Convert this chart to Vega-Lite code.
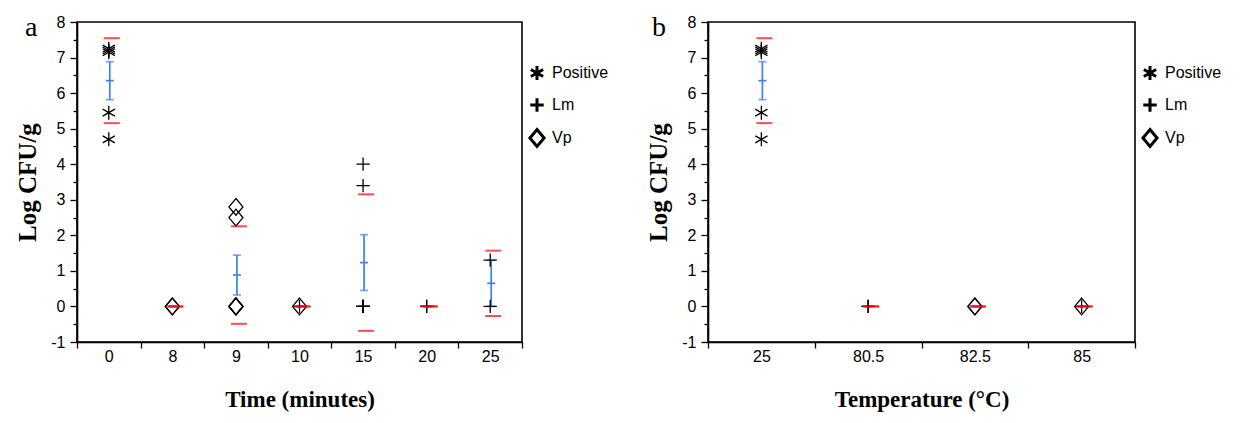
{
  "$schema": "https://vega.github.io/schema/vega-lite/v6.json",
  "background": "white",
  "padding": {"left": 14, "top": 13, "right": 5, "bottom": 3},
  "config": {
    "font": "Liberation Sans",
    "view": {"stroke": "black", "strokeWidth": 1.6},
    "axis": {
      "grid": false,
      "domainColor": "black",
      "domainWidth": 1.6,
      "tickColor": "black",
      "tickWidth": 1.3,
      "labelFont": "Liberation Sans",
      "labelFontSize": 16,
      "labelColor": "black",
      "titleFont": "Liberation Serif",
      "titleFontSize": 23,
      "titleFontWeight": "bold",
      "titleColor": "black"
    },
    "legend": {
      "orient": "none",
      "title": null,
      "symbolStrokeWidth": 3,
      "symbolSize": 200,
      "symbolStrokeColor": "black",
      "symbolFillColor": "transparent",
      "labelFont": "Liberation Sans",
      "labelFontSize": 16,
      "labelColor": "black",
      "labelOffset": 6,
      "rowPadding": 5
    },
    "concat": {"spacing": 35}
  },
  "datasets": {
    "a": [
      {"cat": "0", "group": "Positive", "v": 7.25},
      {"cat": "0", "group": "Positive", "v": 7.2},
      {"cat": "0", "group": "Positive", "v": 7.15},
      {"cat": "0", "group": "Positive", "v": 5.45},
      {"cat": "0", "group": "Positive", "v": 4.7},
      {"cat": "8", "group": "Vp", "v": 0},
      {"cat": "8", "group": "Vp", "v": 0},
      {"cat": "9", "group": "Vp", "v": 2.8},
      {"cat": "9", "group": "Vp", "v": 2.5},
      {"cat": "9", "group": "Vp", "v": 0},
      {"cat": "9", "group": "Vp", "v": 0},
      {"cat": "9", "group": "Vp", "v": 0},
      {"cat": "9", "group": "Vp", "v": 0},
      {"cat": "10", "group": "Vp", "v": 0},
      {"cat": "10", "group": "Lm", "v": 0},
      {"cat": "15", "group": "Lm", "v": 4.0},
      {"cat": "15", "group": "Lm", "v": 3.4},
      {"cat": "15", "group": "Lm", "v": 0},
      {"cat": "15", "group": "Lm", "v": 0},
      {"cat": "15", "group": "Lm", "v": 0},
      {"cat": "15", "group": "Lm", "v": 0},
      {"cat": "20", "group": "Lm", "v": 0},
      {"cat": "20", "group": "Lm", "v": 0},
      {"cat": "25", "group": "Lm", "v": 1.3},
      {"cat": "25", "group": "Lm", "v": 0}
    ],
    "b": [
      {"cat": "25", "group": "Positive", "v": 7.25},
      {"cat": "25", "group": "Positive", "v": 7.2},
      {"cat": "25", "group": "Positive", "v": 7.15},
      {"cat": "25", "group": "Positive", "v": 5.45},
      {"cat": "25", "group": "Positive", "v": 4.7},
      {"cat": "80.5", "group": "Lm", "v": 0},
      {"cat": "80.5", "group": "Lm", "v": 0},
      {"cat": "82.5", "group": "Vp", "v": 0},
      {"cat": "82.5", "group": "Vp", "v": 0},
      {"cat": "85", "group": "Vp", "v": 0},
      {"cat": "85", "group": "Lm", "v": 0}
    ]
  },
  "hconcat": [
    {
      "width": 445,
      "height": 320,
      "data": {"name": "a"},
      "title": {"text": "a", "anchor": "start", "frame": "group", "font": "Liberation Serif", "fontSize": 28, "fontWeight": "normal", "color": "black", "baseline": "alphabetic", "dx": -52, "offset": -50},
      "encoding": {
        "x": {"field": "cat", "type": "nominal", "title": "Time (minutes)",
          "scale": {"type": "band", "domain": ["0", "8", "9", "10", "15", "20", "25"], "paddingInner": 0, "paddingOuter": 0},
          "axis": {"labelAngle": 0, "tickBand": "extent", "tickSize": 6, "labelPadding": 0, "titlePadding": 24}},
        "y": {"field": "v", "type": "quantitative", "title": "Log CFU/g",
          "scale": {"domain": [-1, 8], "nice": false, "zero": false},
          "axis": {"values": [-1, -0.5, 0, 0.5, 1, 1.5, 2, 2.5, 3, 3.5, 4, 4.5, 5, 5.5, 6, 6.5, 7, 7.5, 8],
            "tickSize": {"condition": {"test": "datum.value % 1 !== 0", "value": 4}, "value": 7},
            "labelExpr": "datum.value % 1 === 0 ? '' + datum.value : ''",
            "labelPadding": 5, "titlePadding": 10, "titleFontSize": 25}}
      },
      "layer": [
        {"mark": {"type": "errorbar", "extent": "stderr", "color": "#3d7ff5", "ticks": {"xOffset": 1}, "rule": {"xOffset": 1}, "size": 8, "thickness": 1.7}},
        {"mark": {"type": "tick", "color": "#3d7ff5", "size": 8, "thickness": 1.7, "xOffset": 1},
          "encoding": {"y": {"aggregate": "mean", "field": "v", "type": "quantitative", "title": "Log CFU/g"}}},
        {"mark": {"type": "point", "filled": false, "color": "black", "strokeWidth": 1.3, "size": 196, "opacity": 1},
          "encoding": {"shape": {"field": "group", "type": "nominal",
            "scale": {"domain": ["Positive", "Lm", "Vp"], "range": ["M0,-1L0,1M-0.87,-0.5L0.87,0.5M-0.87,0.5L0.87,-0.5", "M-0.95,0L0.95,0M0,-0.95L0,0.95", "M0,-1.2L1,0L0,1.2L-1,0Z"]},
            "legend": {"legendX": 451, "legendY": 42}}}},
        {"transform": [{"filter": "isValid(datum.v)"}],
          "mark": {"type": "errorbar", "extent": "stdev", "color": "#ff0000", "rule": false, "ticks": {"xOffset": 3}, "size": 16, "thickness": 2}}
      ]
    },
    {
      "width": 427,
      "height": 320,
      "data": {"name": "b"},
      "title": {"text": "b", "anchor": "start", "frame": "group", "font": "Liberation Serif", "fontSize": 28, "fontWeight": "normal", "color": "black", "baseline": "alphabetic", "dx": -56, "offset": -50},
      "encoding": {
        "x": {"field": "cat", "type": "nominal", "title": "Temperature (°C)",
          "scale": {"type": "band", "domain": ["25", "80.5", "82.5", "85"], "paddingInner": 0, "paddingOuter": 0},
          "axis": {"labelAngle": 0, "tickBand": "extent", "tickSize": 6, "labelPadding": 0, "titlePadding": 24}},
        "y": {"field": "v", "type": "quantitative", "title": "Log CFU/g",
          "scale": {"domain": [-1, 8], "nice": false, "zero": false},
          "axis": {"values": [-1, -0.5, 0, 0.5, 1, 1.5, 2, 2.5, 3, 3.5, 4, 4.5, 5, 5.5, 6, 6.5, 7, 7.5, 8],
            "tickSize": {"condition": {"test": "datum.value % 1 !== 0", "value": 4}, "value": 7},
            "labelExpr": "datum.value % 1 === 0 ? '' + datum.value : ''",
            "labelPadding": 5, "titlePadding": 10, "titleFontSize": 25}}
      },
      "layer": [
        {"mark": {"type": "errorbar", "extent": "stderr", "color": "#3d7ff5", "ticks": {"xOffset": 1}, "rule": {"xOffset": 1}, "size": 8, "thickness": 1.7}},
        {"mark": {"type": "tick", "color": "#3d7ff5", "size": 8, "thickness": 1.7, "xOffset": 1},
          "encoding": {"y": {"aggregate": "mean", "field": "v", "type": "quantitative", "title": "Log CFU/g"}}},
        {"mark": {"type": "point", "filled": false, "color": "black", "strokeWidth": 1.3, "size": 196, "opacity": 1},
          "encoding": {"shape": {"field": "group", "type": "nominal",
            "scale": {"domain": ["Positive", "Lm", "Vp"], "range": ["M0,-1L0,1M-0.87,-0.5L0.87,0.5M-0.87,0.5L0.87,-0.5", "M-0.95,0L0.95,0M0,-0.95L0,0.95", "M0,-1.2L1,0L0,1.2L-1,0Z"]},
            "legend": {"legendX": 433, "legendY": 42}}}},
        {"transform": [{"filter": "isValid(datum.v)"}],
          "mark": {"type": "errorbar", "extent": "stdev", "color": "#ff0000", "rule": false, "ticks": {"xOffset": 3}, "size": 16, "thickness": 2}}
      ]
    }
  ],
  "resolve": {"scale": {"shape": "independent"}, "legend": {"shape": "independent"}}
}
